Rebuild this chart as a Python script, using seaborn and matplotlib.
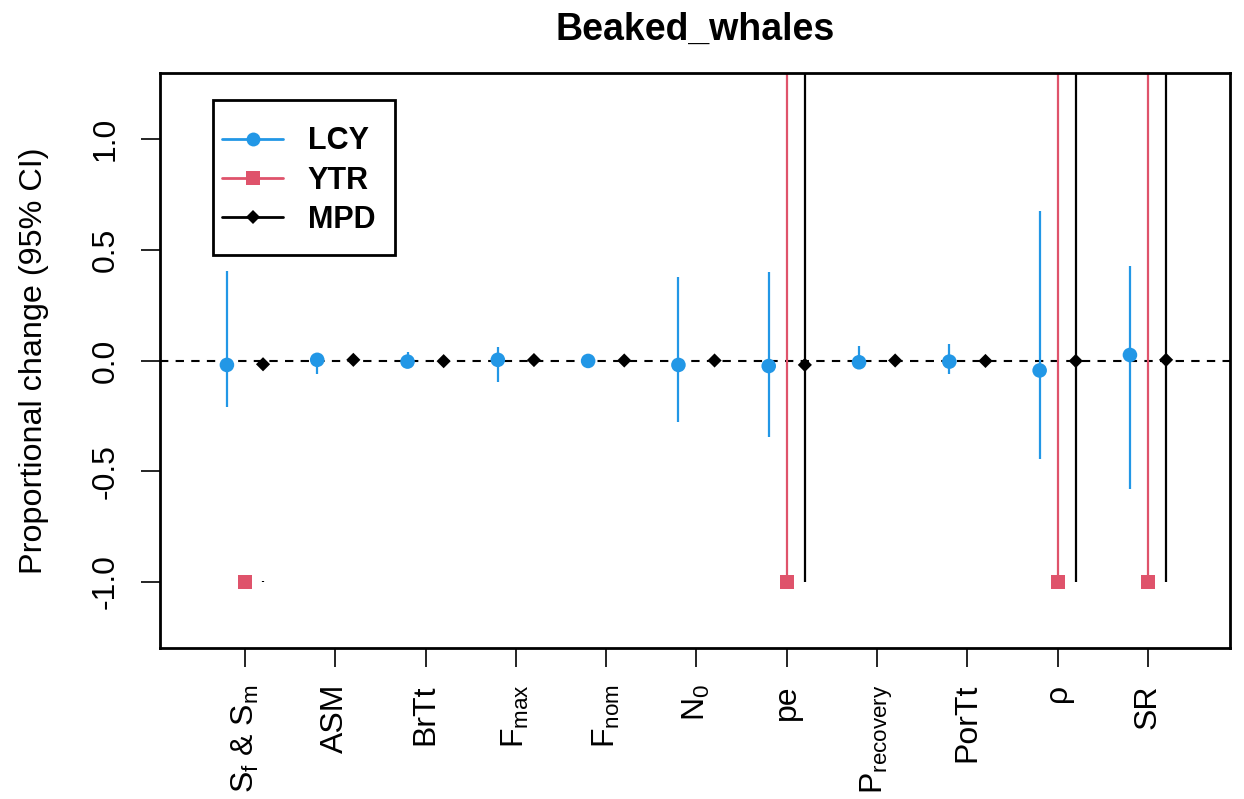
import matplotlib
matplotlib.use("Agg")
import matplotlib.pyplot as plt
from matplotlib.lines import Line2D
from matplotlib.patches import Rectangle
import numpy as np
import pandas as pd
import seaborn as sns

# --------------------
# data
# --------------------
params = [r'$\mathregular{S_f}$ & $\mathregular{S_m}$', 'ASM', 'BrTt', r'$\mathregular{F_{max}}$',
          r'$\mathregular{F_{nom}}$', r'$\mathregular{N_0}$', 'pe', r'$\mathregular{P_{recovery}}$',
          'PorTt', 'ρ', 'SR']

lcy_mid = [-0.02, 0.003, -0.005, 0.003, -0.002, -0.02, -0.025, -0.008, -0.005, -0.045, 0.025]
lcy_lo = [-0.21, -0.06, -0.005, -0.095, -0.004, -0.28, -0.345, -0.04, -0.06, -0.445, -0.58]
lcy_hi = [0.405, 0.01, 0.04, 0.06, 0.002, 0.377, 0.398, 0.065, 0.075, 0.674, 0.427]

ytr_mid = [-1.0, np.nan, np.nan, np.nan, np.nan, np.nan, -1.0, np.nan, np.nan, -1.0, -1.0]
ytr_lo = [-1.0, np.nan, np.nan, np.nan, np.nan, np.nan, -1.0, np.nan, np.nan, -1.0, -1.0]
ytr_hi = [-1.0, np.nan, np.nan, np.nan, np.nan, np.nan, 3.0, np.nan, np.nan, 3.0, 3.0]

mpd_mid = [-0.017, 0.003, -0.003, 0.002, 0.0, 0.0, -0.02, 0.0, -0.002, -0.002, 0.003]
mpd_lo = [-1.0, np.nan, np.nan, np.nan, np.nan, np.nan, -1.0, np.nan, np.nan, -1.0, -1.0]
mpd_hi = [-0.995, np.nan, np.nan, np.nan, np.nan, np.nan, 3.0, np.nan, np.nan, 3.0, 3.0]

series = ['LCY', 'YTR', 'MPD']
colors = {'LCY': '#2297E6', 'YTR': '#DF536B', 'MPD': 'black'}
markers = {'LCY': 'o', 'YTR': 's', 'MPD': 'D'}
offsets = {'LCY': -0.2, 'YTR': 0.0, 'MPD': 0.2}

rows = []
for name, mid, lo, hi in [('LCY', lcy_mid, lcy_lo, lcy_hi),
                          ('YTR', ytr_mid, ytr_lo, ytr_hi),
                          ('MPD', mpd_mid, mpd_lo, mpd_hi)]:
    for i in range(len(params)):
        rows.append(dict(series=name, x=i + 1 + offsets[name], mid=mid[i], lo=lo[i], hi=hi[i]))
df = pd.DataFrame(rows)

# --------------------
# plot
# --------------------
sns.set_style('white')
plt.rcParams['font.family'] = ['Liberation Sans', 'DejaVu Sans']
plt.rcParams['mathtext.fontset'] = 'custom'
plt.rcParams['mathtext.rm'] = 'Liberation Sans'
for k in ['text.color', 'axes.labelcolor', 'xtick.color', 'ytick.color']:
    plt.rcParams[k] = 'black'
fs = 23

fig = plt.figure(figsize=(12.44, 7.99), dpi=100)
ax = fig.add_axes([160 / 1244, 151 / 799, 1070 / 1244, 575 / 799])

ax.axhline(0, color='black', lw=1.5, ls=(0, (4, 3.5)), zorder=1)

for name in series:
    sub = df[df.series == name].dropna(subset=['lo'])
    ax.vlines(sub.x, sub.lo, sub.hi, color=colors[name], lw=1.6, zorder=2)

sizes = {'LCY': 110, 'YTR': 100, 'MPD': 52}
for name in series:
    sub = df[df.series == name].dropna(subset=['mid'])
    sns.scatterplot(data=sub, x='x', y='mid', marker=markers[name], color=colors[name],
                    s=sizes[name], edgecolor='none', linewidth=0, ax=ax, zorder=3, legend=False)

ax.set_xlim(0.059, 11.908)
ax.set_ylim(-1.3, 1.3)
ax.set_xticks(np.arange(1, len(params) + 1))
ax.set_xticklabels(params, rotation=90, fontsize=fs)
ax.set_yticks([-1.0, -0.5, 0.0, 0.5, 1.0])
ax.set_yticklabels(['-1.0', '-0.5', '0.0', '0.5', '1.0'], rotation=90, va='center', fontsize=fs)
ax.tick_params(axis='x', length=14, width=1.2, pad=12, direction='out', bottom=True)
ax.tick_params(axis='y', length=14, width=1.2, pad=14, direction='out', left=True)
ax.set_xlabel('')
ax.set_ylabel('Proportional change (95% CI)', fontsize=23.3, labelpad=30)
ax.set_title('Beaked_whales', fontsize=27, fontweight='bold', pad=24)
for sp in ax.spines.values():
    sp.set_visible(True)
    sp.set_color('black')
    sp.set_linewidth(2)

# legend box drawn separately so its padding matches R's
ax.add_patch(Rectangle((0.0495, 0.6835), 0.1701, 0.2695, transform=ax.transAxes,
                       facecolor='white', edgecolor='black', lw=2, zorder=4))
handles = [Line2D([0], [0], color=colors[n], lw=2, marker=markers[n],
                  markersize={'LCY': 10, 'YTR': 10, 'MPD': 7}[n], markeredgewidth=0)
           for n in series]
leg = ax.legend(handles, series, loc='upper left', bbox_to_anchor=(0.058, 0.907),
                frameon=False, prop={'size': 22, 'weight': 'bold'},
                handlelength=2.0, handletextpad=0.8, borderpad=0, labelspacing=0.3,
                borderaxespad=0)
leg.set_zorder(5)

fig.savefig('out.png', dpi=100)
